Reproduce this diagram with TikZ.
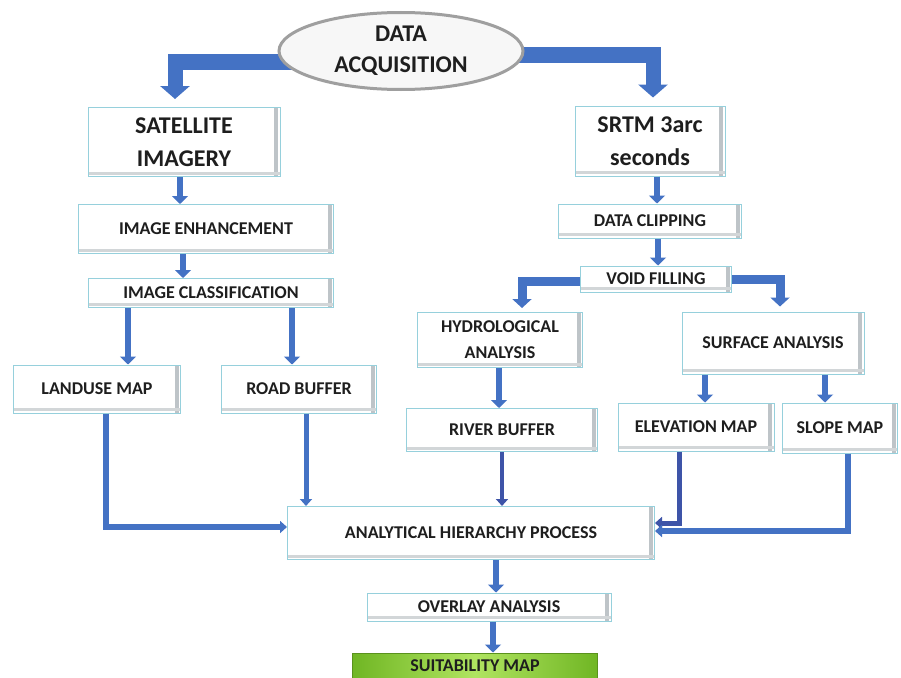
\documentclass[tikz,border=0pt]{standalone}
\usepackage{fontspec}
\setmainfont{Carlito}
\usetikzlibrary{shapes.geometric,arrows.meta,backgrounds}
\definecolor{arrowblue}{RGB}{68,114,196}
\definecolor{arrowdark}{RGB}{62,84,168}
\definecolor{boxedge}{RGB}{150,208,220}
\definecolor{boxshade}{RGB}{190,196,200}
\definecolor{textdark}{RGB}{30,30,30}
\definecolor{suitgreen}{RGB}{112,182,36}
\definecolor{suitlight}{RGB}{176,228,96}
\tikzset{
% boxes of the flow chart
flow box/.style={rectangle,draw=boxedge,line width=1pt,fill=white,inner sep=2pt,
  align=center,text=textdark,font=\bfseries\fontsize{18}{26}\selectfont,
  path picture={
    \fill[boxshade] ([xshift=-6pt]path picture bounding box.north east)
      rectangle ([xshift=-2pt]path picture bounding box.south east);
    \fill[boxshade!70] ([yshift=2pt]path picture bounding box.south west)
      rectangle ([yshift=5pt]path picture bounding box.south east);}},
big box/.style={flow box,font=\bfseries\fontsize{24}{33}\selectfont},
% arrows between the boxes
top arrow/.style={draw=arrowblue,line width=15pt,-{Triangle[width=29pt,length=13pt]}},
split arrow/.style={draw=arrowblue,line width=9pt,-{Triangle[width=19pt,length=9pt]}},
down arrow/.style={draw=arrowblue,line width=6pt,-{Triangle[width=16pt,length=8pt]}},
feed arrow/.style={draw=arrowblue,line width=5pt,-{Triangle[width=12pt,length=7pt]}}
}
\begin{document}
\begin{tikzpicture}[x=1pt,y=-1pt]
\useasboundingbox (0,0) rectangle (901,677);
% source
\node[ellipse,draw=gray!75,line width=3pt,fill=gray!6,
  minimum width=244pt,minimum height=77pt,inner sep=0pt,align=center,text=textdark,
  font=\bfseries\fontsize{24}{31}\selectfont] (data) at (401,51) {DATA\\ACQUISITION};
\node[big box,minimum width=192pt,minimum height=69pt] (sat) at (184,142) {SATELLITE\\IMAGERY};
\node[big box,minimum width=150pt,minimum height=70pt] (srtm) at (650,141) {SRTM 3arc\\seconds};
% left branch
\node[flow box,minimum width=255pt,minimum height=49pt] (enh) at (206,229) {IMAGE ENHANCEMENT};
\node[flow box,minimum width=245pt,minimum height=29pt] (cls) at (211,293) {IMAGE CLASSIFICATION};
\node[flow box,minimum width=167pt,minimum height=48pt] (land) at (97,389) {LANDUSE MAP};
\node[flow box,minimum width=155pt,minimum height=48pt] (road) at (299,389) {ROAD BUFFER};
% right branch
\node[flow box,minimum width=183pt,minimum height=34pt] (clip) at (650,221) {DATA CLIPPING};
\node[flow box,minimum width=151pt,minimum height=26pt] (void) at (656,279) {VOID FILLING};
\node[flow box,minimum width=165pt,minimum height=55pt] (hydro) at (500,340) {HYDROLOGICAL\\ANALYSIS};
\node[flow box,minimum width=182pt,minimum height=62pt] (surf) at (773,343) {SURFACE ANALYSIS};
\node[flow box,minimum width=191pt,minimum height=43pt] (river) at (502,430) {RIVER BUFFER};
\node[flow box,minimum width=156pt,minimum height=48pt] (elev) at (696,427) {ELEVATION MAP};
\node[flow box,minimum width=115pt,minimum height=50pt] (slope) at (840,428) {SLOPE MAP};
% combination
\node[flow box,minimum width=367pt,minimum height=53pt] (ahp) at (471,533) {ANALYTICAL HIERARCHY PROCESS};
\node[flow box,minimum width=244pt,minimum height=28pt] (over) at (489,607) {OVERLAY ANALYSIS};
\node[flow box,draw=suitgreen!80!black,left color=suitgreen,right color=suitgreen,
  middle color=suitlight,path picture={},minimum width=245pt,minimum height=26pt] (suit) at (475,666) {SUITABILITY MAP};
\begin{scope}[on background layer]
\draw[top arrow,shorten >=8pt] ([yshift=-11pt]data.center) -| ([xshift=-9pt]sat.north);
\draw[top arrow,shorten >=8pt] ([yshift=-4pt]data.center) -| ([xshift=3pt]srtm.north);
\draw[split arrow,shorten >=4pt] ([yshift=-2pt]void.center) -| ([xshift=22pt]hydro.north);
\draw[split arrow,shorten >=5pt] (void.center) -| ([xshift=7pt]surf.north);
\end{scope}
\draw[down arrow] ([xshift=-4pt]sat.south) -- ([xshift=-4pt]sat.south |- enh.north);
\draw[down arrow] ([xshift=-23pt]enh.south) -- ([xshift=-23pt]enh.south |- cls.north);
\draw[down arrow] ([xshift=31pt]land.north |- cls.south) -- ([xshift=31pt]land.north);
\draw[down arrow] ([xshift=-7pt]road.north |- cls.south) -- ([xshift=-7pt]road.north);
\draw[down arrow] ([xshift=7pt]srtm.south) -- ([xshift=7pt]srtm.south |- clip.north);
\draw[down arrow] ([xshift=8pt]clip.south) -- ([xshift=8pt]clip.south |- void.north);
\draw[down arrow] ([xshift=-3pt]river.north |- hydro.south) -- ([xshift=-3pt]river.north);
\draw[down arrow] ([xshift=9pt]elev.north |- surf.south) -- ([xshift=9pt]elev.north);
\draw[down arrow] ([xshift=-15pt]slope.north |- surf.south) -- ([xshift=-15pt]slope.north);
\draw[feed arrow,line width=6pt] ([xshift=9pt]land.south) |- ([yshift=6pt]ahp.west);
\draw[feed arrow] ([xshift=7pt]road.south) -- ([xshift=7pt]road.south |- ahp.north);
\draw[feed arrow,line width=4pt,draw=arrowdark] (river.south) -- (river.south |- ahp.north);
\draw[feed arrow,draw=arrowdark] ([xshift=-17pt]elev.south) |- ([yshift=10pt]ahp.east);
\draw[feed arrow,line width=6pt] ([xshift=8pt]slope.south) |- ([yshift=2pt]ahp.east);
\draw[down arrow] ([xshift=7pt]over.north |- ahp.south) -- ([xshift=7pt]over.north);
\draw[down arrow] ([xshift=4pt]over.south) -- ([xshift=4pt]over.south |- suit.north);
\end{tikzpicture}
\end{document}
